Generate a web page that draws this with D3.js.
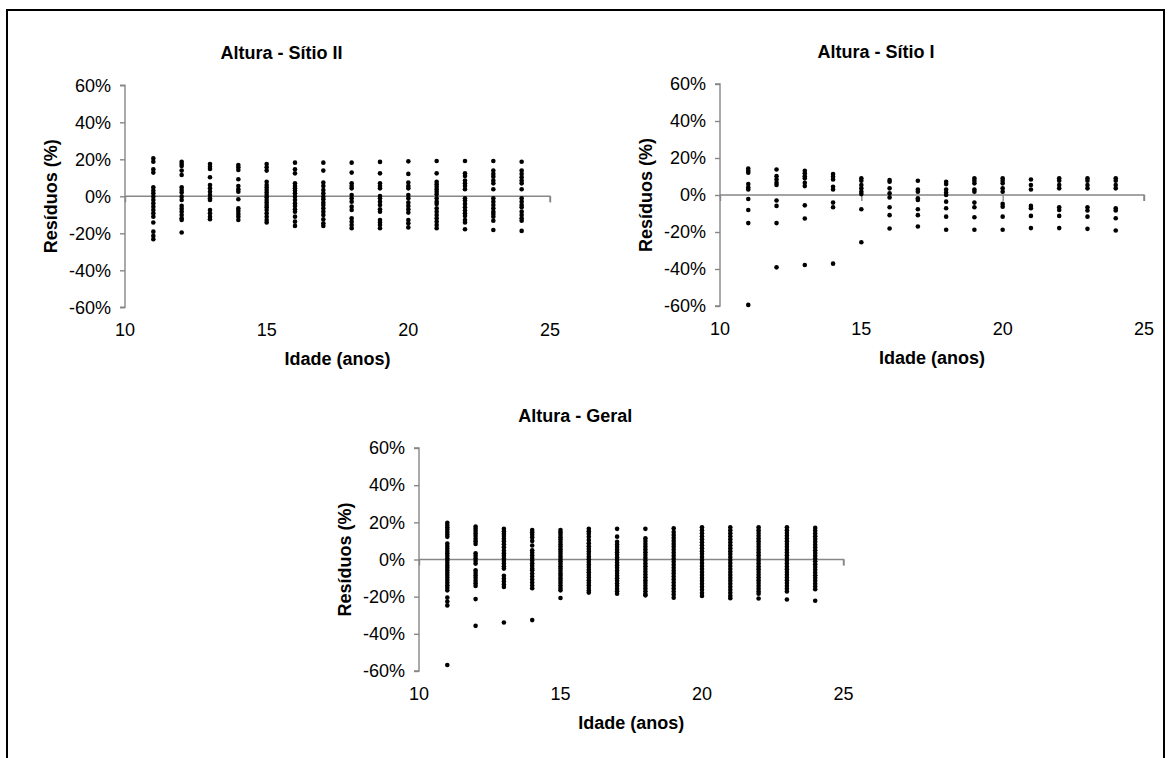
<!DOCTYPE html>
<html>
<head>
<meta charset="utf-8">
<script src="https://cdn.jsdelivr.net/npm/d3@7/dist/d3.min.js"></script>
<style>
  html, body { margin: 0; padding: 0; background: #fff; }
  svg { display: block; }
  text { font-family: "Liberation Sans", Arial, sans-serif; }
</style>
</head>
<body>
<svg id="chart" width="1168" height="758"></svg>
<script>
// ---------- DATA ----------
const ages = [11, 12, 13, 14, 15, 16, 17, 18, 19, 20, 21, 22, 23, 24];
const xTicks = [10, 15, 20, 25];
const yTicks = [60, 40, 20, 0, -20, -40, -60];

const titles = ["Altura - Sítio II", "Altura - Sítio I", "Altura - Geral"];
const xLabel = "Idade (anos)";
const yLabel = "Resíduos (%)";

// residuals (%) per age, Sítio II
const sitioII = [
  [20.5, 18.7, 14.6, 12.8, 4.9, 3.1, 1.6, -0.2, -2, -3.8, -5.6, -7.4, -9.2, -11, -14.2, -19.1, -21.4, -23.2],
  [18.7, 17.5, 16.4, 13.9, 11.5, 4.9, 3.4, 2, -0.2, -2, -5.2, -6.7, -8.3, -10.1, -11.9, -12.8, -19.6],
  [17.5, 16, 14.8, 10.3, 6.1, 4.3, 2.5, 0.7, -1.1, -2, -7.4, -9.2, -11, -12.4],
  [16.9, 15.7, 14.2, 9.2, 5.6, 3.8, 2.5, -1.6, -6.5, -7.9, -9.5, -11, -12.8],
  [17.5, 15.7, 13.9, 7.9, 6.1, 4.7, 3.4, 2, 0.7, -0.5, -2, -3.4, -4.7, -5.9, -7.4, -9.2, -11, -12.8, -14.2],
  [18.2, 14.6, 12.4, 7, 5.6, 4.3, 3.1, 1.6, -0.2, -2, -3.8, -5.2, -7, -8.3, -11, -13.7, -16],
  [18.2, 13.9, 7.4, 5.6, 3.4, 1.6, -0.2, -1.6, -3.4, -4.7, -6.5, -8.3, -10.1, -12.4, -14.6, -16],
  [18.2, 12.8, 7, 5.6, 4.3, 0.7, -1.1, -2.9, -5.6, -7.4, -11.9, -13.7, -15.5, -17.3],
  [18.6, 12.4, 7, 5.6, 4.3, 0.2, -1.1, -2.9, -4.7, -7, -8.3, -12.8, -14.2, -15.5, -17.3],
  [18.9, 12.1, 7.4, 5.6, 4.3, 0.7, -1.1, -3.4, -5.2, -7, -8.8, -12.8, -14.6, -16.8],
  [19.1, 12.4, 7.9, 6.5, 5.2, 3.8, 2.5, 1.1, -1.1, -2.9, -4.1, -6.5, -8.3, -10.1, -11.9, -13.7, -15.5, -17.3],
  [19.1, 12.4, 11, 8.5, 7, 5.6, 3.8, -1.1, -2.3, -4.1, -5.9, -7.7, -9.2, -10.6, -12.8, -14.2, -17.8],
  [19.1, 13.9, 12.1, 10.6, 8.5, 7, 3.8, -1.1, -2.9, -4.7, -6.5, -8.3, -9.5, -11, -13.2, -18.2],
  [18.7, 13.9, 12.1, 10.3, 8.5, 7, 3.8, -1.1, -2.9, -4.7, -5.9, -8.3, -10.1, -11.9, -13.2, -18.7]
];

// residuals (%) per age, Sítio I
const sitioI = [
  [14.3, 13.1, 12, 5.9, 4.1, 3, -2.2, -8.1, -15.2, -59.4],
  [13.8, 10.2, 8.4, 6.6, 5.4, -3, -5.9, -15.2, -39.1],
  [13.1, 11.7, 10.2, 9, 6.6, 4.8, -5.6, -12.7, -37.8],
  [11.3, 9.9, 8.4, 4.5, 3, -4.1, -6.6, -37.1],
  [9, 7.7, 5.4, 3.6, 1.8, 0.5, -7.7, -25.5],
  [8.1, 7.2, 3.6, 0.9, -1.3, -6.6, -10.9, -18.1],
  [7.7, 3, 1.8, -1.8, -2.7, -7.7, -10.9, -17],
  [7.2, 5.9, 3, 1.3, 0, -3.6, -7.2, -11.7, -18.8],
  [9, 7.7, 6.3, 3, 1.8, -4.1, -6.6, -12, -18.8],
  [9, 7.7, 6.3, 3.6, 1.8, -4.8, -6.3, -11.7, -18.8],
  [8.4, 5.4, 3, -5.9, -7.2, -11.3, -17.9],
  [9, 7.7, 5.4, 3.6, -6.6, -8.1, -11.3, -17.9],
  [9, 7.7, 5.4, 3.6, -6.6, -8.4, -11.7, -18.3],
  [9, 7.7, 5.4, 3.6, -7.2, -8.4, -12.6, -19.2]
];

// residuals (%) per age, Geral
const geral = [
  [19.8, 18.6, 17.3, 16.1, 14.8, 13.5, 12.2, 8.6, 7.2, 5.9, 4.6, 3.3, 2.0, 0.7, -0.6, -1.9, -3.2, -4.5, -5.8, -7.1, -8.4, -9.7, -11.0, -12.4, -13.8, -15.2, -16.6, -20.5, -22.6, -24.7, -56.8],
  [17.7, 16.5, 15.3, 14.0, 12.6, 11.2, 9.8, 8.4, 3.4, 2.0, 0.6, -0.8, -2.2, -5.8, -7.2, -8.6, -10.0, -11.4, -12.8, -14.2, -21.3, -35.7],
  [16.5, 15.2, 13.9, 12.6, 11.2, 9.8, 8.2, 6.6, 4.8, 3.4, 2.0, 0.6, -0.8, -2.2, -3.6, -4.9, -8.8, -10.4, -11.9, -13.4, -14.8, -33.9],
  [15.9, 14.6, 13.3, 12.0, 10.0, 7.5, 5.0, 3.6, 2.2, 0.8, -0.6, -2.0, -3.4, -4.8, -5.8, -7.6, -9.2, -10.8, -12.4, -14.0, -15.5, -32.6],
  [15.9, 14.6, 13.3, 12.0, 10.7, 9.4, 8.1, 6.8, 5.5, 4.2, 2.9, 1.6, 0.3, -1.0, -2.3, -3.6, -4.9, -6.2, -7.5, -8.8, -10.1, -11.4, -12.7, -14.0, -15.3, -16.6, -20.7],
  [16.5, 15.2, 13.9, 12.2, 10.5, 8.8, 7.1, 5.7, 4.3, 2.9, 1.5, 0.1, -1.3, -2.7, -4.1, -5.5, -6.9, -8.3, -9.7, -11.1, -12.5, -13.9, -15.3, -16.7, -17.8],
  [16.5, 12.3, 9.5, 8.1, 6.7, 5.3, 3.9, 2.5, 1.1, -0.3, -1.7, -3.1, -4.5, -5.9, -7.3, -8.7, -10.1, -11.5, -12.9, -14.3, -15.7, -17.1, -18.4],
  [16.5, 11.4, 9.9, 8.4, 6.9, 5.4, 3.9, 2.4, 0.9, -0.6, -2.1, -3.6, -5.1, -6.6, -8.1, -9.6, -11.1, -12.6, -14.1, -15.6, -17.1, -18.6, -19.3],
  [16.8, 14.8, 13.2, 11.6, 10.0, 8.4, 6.8, 5.2, 3.6, 2.0, 0.4, -1.2, -2.8, -4.4, -6.0, -7.6, -9.2, -10.8, -12.4, -14.0, -15.6, -17.2, -18.8, -20.6],
  [17.3, 15.7, 14.1, 12.5, 10.9, 9.3, 7.7, 6.1, 4.5, 2.9, 1.3, -0.3, -1.9, -3.5, -5.1, -6.7, -8.3, -9.9, -11.5, -13.1, -14.7, -16.3, -18.0, -19.6],
  [17.3, 15.7, 14.1, 12.5, 10.9, 9.3, 7.7, 6.1, 4.5, 2.9, 1.3, -0.3, -1.9, -3.5, -5.1, -6.7, -8.3, -9.9, -11.5, -13.1, -14.7, -16.3, -17.9, -19.5, -20.8],
  [17.3, 15.8, 14.3, 12.8, 11.3, 9.8, 8.3, 6.8, 5.3, 3.8, 2.3, 0.8, -0.7, -2.2, -3.7, -5.2, -6.7, -8.2, -9.7, -11.2, -12.7, -14.2, -15.7, -17.2, -18.4, -21.0],
  [17.3, 15.8, 14.3, 12.8, 11.3, 9.8, 8.3, 6.8, 5.3, 3.8, 2.3, 0.8, -0.7, -2.2, -3.7, -5.2, -6.7, -8.2, -9.7, -11.2, -12.7, -14.2, -15.7, -17.2, -21.5],
  [17.0, 15.5, 14.0, 12.5, 11.0, 9.5, 8.0, 6.5, 5.0, 3.5, 2.0, 0.5, -1.0, -2.5, -4.0, -5.5, -7.0, -8.5, -10.0, -11.5, -13.0, -14.5, -16.0, -22.2]
];

// ---------- LAYOUT ----------
const svg = d3.select("#chart");
svg.append("rect").attr("x", 7).attr("y", 10).attr("width", 1157).attr("height", 770)
  .attr("fill", "#fff").attr("stroke", "#000").attr("stroke-width", 2);

const panels = [
  { data: sitioII, title: titles[0], x0: 125, x1: 550, yTop: 85.3, yBot: 307.3 },
  { data: sitioI,  title: titles[1], x0: 720, x1: 1144, yTop: 84, yBot: 306 },
  { data: geral,   title: titles[2], x0: 419, x1: 843.5, yTop: 448, yBot: 671 }
];

const axisColor = "#878787";

panels.forEach(p => {
  const x = d3.scaleLinear().domain([10, 25]).range([p.x0, p.x1]);
  const y = d3.scaleLinear().domain([-60, 60]).range([p.yBot, p.yTop]);
  const g = svg.append("g");

  // Y axis
  const yAxis = d3.axisLeft(y).tickValues(yTicks).tickSize(5).tickPadding(9)
    .tickFormat(d => d + "%");
  const ya = g.append("g").attr("transform", `translate(${p.x0},0)`).call(yAxis);
  ya.select(".domain").attr("stroke", axisColor).attr("stroke-width", 1.4)
    .attr("d", `M-5,${p.yTop}H0V${p.yBot}H-5`);
  ya.selectAll(".tick line").attr("stroke", axisColor).attr("stroke-width", 1.4);
  ya.selectAll(".tick text").attr("fill", "#000").style("font-size", "18px")
    .style("font-family", "'Liberation Sans', Arial, sans-serif");

  // X axis line at y = 0 with ticks downward
  const xAxis = d3.axisBottom(x).tickValues(xTicks).tickSize(6).tickFormat("");
  const xa = g.append("g").attr("transform", `translate(0,${y(0)})`).call(xAxis);
  xa.select(".domain").attr("stroke", axisColor).attr("stroke-width", 1.4)
    .attr("d", `M${p.x0},0H${p.x1}V6`);
  xa.selectAll(".tick line").attr("stroke", axisColor).attr("stroke-width", 1.4);

  // X tick labels at bottom
  g.selectAll("text.xt").data(xTicks).enter().append("text")
    .attr("class", "xt")
    .attr("x", d => x(d)).attr("y", p.yBot + 23)
    .attr("text-anchor", "middle").attr("dominant-baseline", "central")
    .style("font-size", "18px").text(d => d);

  // points
  const pts = [];
  p.data.forEach((vals, i) => vals.forEach(v => pts.push({ a: ages[i], v })));
  g.selectAll("circle").data(pts).enter().append("circle")
    .attr("cx", d => x(d.a)).attr("cy", d => y(d.v)).attr("r", 2.3).attr("fill", "#000");

  const cx = (p.x0 + p.x1) / 2;
  const cy = (p.yTop + p.yBot) / 2;
  // title
  g.append("text").attr("x", cx - 56).attr("y", p.yTop - 32)
    .attr("text-anchor", "middle").attr("dominant-baseline", "central")
    .style("font-size", "18px").style("font-weight", "bold").text(p.title);
  // x label
  g.append("text").attr("x", cx).attr("y", p.yBot + 52)
    .attr("text-anchor", "middle").attr("dominant-baseline", "central")
    .style("font-size", "18px").style("font-weight", "bold").text(xLabel);
  // y label
  g.append("text").attr("transform", `translate(${p.x0 - 74},${cy}) rotate(-90)`)
    .attr("text-anchor", "middle").attr("dominant-baseline", "central")
    .style("font-size", "18px").style("font-weight", "bold").text(yLabel);
});
</script>
</body>
</html>
